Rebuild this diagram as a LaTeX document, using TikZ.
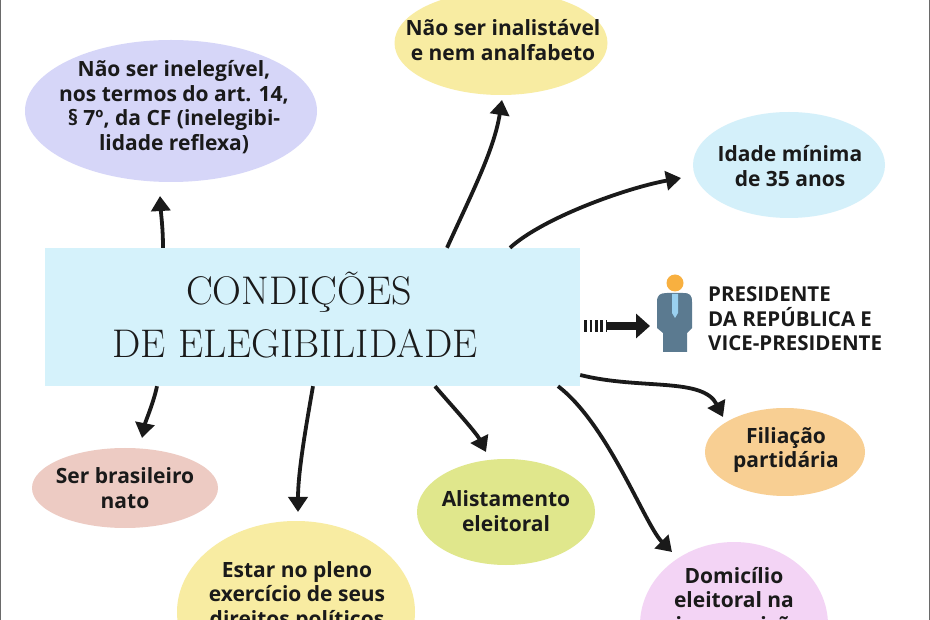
\documentclass[tikz,border=0pt]{standalone}
\usepackage{fontspec}
\usepackage{graphicx}
\newfontfamily\bodyf{Open Sans}
\usetikzlibrary{arrows.meta,shapes.geometric}
\definecolor{ink}{HTML}{1A1A1A}
\definecolor{lav}{HTML}{D6D6F8}
\definecolor{ylw}{HTML}{F8ECA2}
\definecolor{sky}{HTML}{D4F0FA}
\definecolor{cyanbox}{HTML}{D5F2FB}
\definecolor{orng}{HTML}{F8CF93}
\definecolor{pnk}{HTML}{F3D4F5}
\definecolor{lime}{HTML}{E0E78C}
\definecolor{rose}{HTML}{EDCBC3}
\definecolor{suit}{HTML}{5B7A90}
\definecolor{tie}{HTML}{9AD0EF}
\definecolor{headc}{HTML}{F8B040}
\definecolor{frame}{HTML}{6A6A6A}
\begin{document}
\begin{tikzpicture}[x=1pt,y=-1pt,
  ell/.style={ellipse, inner sep=0pt, draw=none},
  lbl/.style={font=\bodyf\bfseries\fontsize{21}{24.5}\selectfont, align=center, text=ink, inner sep=0pt},
  ttl/.style={font=\fontsize{40}{53}\selectfont\addfontfeature{LetterSpace=2}, text=ink, inner sep=0pt, anchor=base},
  arr/.style={line width=3.8pt, draw=ink, -{Triangle[length=15pt,width=19pt]}}]
\useasboundingbox (0,0) rectangle (930,620);
\begin{scope}
\clip (0,0) rectangle (930,620);
\fill[white] (0,0) rectangle (930,620);
% ellipses
\node[ell, fill=lav,  minimum width=292pt, minimum height=142pt] (e1) at (171,111) {};
\node[ell, fill=ylw,  minimum width=213pt, minimum height=104pt] (e2) at (501,43) {};
\node[ell, fill=sky,  minimum width=192pt, minimum height=106pt] (e3) at (789,165) {};
\node[ell, fill=orng, minimum width=160pt, minimum height=88pt] (e7) at (785,452) {};
\node[ell, fill=pnk,  minimum width=188pt, minimum height=166pt] (e8) at (734,625) {};
\node[ell, fill=lime, minimum width=178pt, minimum height=106pt] (e9) at (506,512) {};
\node[ell, fill=rose, minimum width=186pt, minimum height=80pt] (e10) at (125,488) {};
\node[ell, fill=ylw,  minimum width=238pt, minimum height=182pt] (e11) at (296,612) {};
% labels
\node[lbl] (l1) at (174,107) {Não ser inelegível,\\nos termos do art. 14,\\§ 7º, da CF (inelegibi-\\lidade reflexa)};
\node[lbl] (l2) at (503,40) {Não ser inalistável\\e nem analfabeto};
\node[lbl] (l3) at (790,166) {Idade mínima\\de 35 anos};
\node[lbl] (l7) at (786,450) {Filiação\\partidária};
\node[lbl] (l10) at (125,488) {Ser brasileiro\\nato};
\node[lbl] (l9) at (506,511) {Alistamento\\eleitoral};
\node[lbl, anchor=north] (l11) at (297,561) {Estar no pleno\\exercício de seus\\direitos políticos};
\node[lbl, anchor=north] (l8) at (734,567) {Domicílio\\eleitoral na\\circunscrição};
% central box
\node[rectangle, fill=cyanbox, minimum width=535pt, minimum height=138pt, inner sep=0pt] (ctr) at (312.5,317) {};
\node[ttl] (t1) at (299,305) {CONDIÇÕES};
\node[ttl] (t2) at (295,358) {DE ELEGIBILIDADE};
% arrows
\draw[arr] ([xshift=-149.5pt]ctr.north) .. controls +(0,-20) and +(1,18) .. ([xshift=-11pt,yshift=-85pt]e1.center);
\draw[arr] ([xshift=134.5pt]ctr.north) .. controls +(25,-55) and +(-8,50) .. ([xshift=1pt,yshift=-57pt]e2.center);
\draw[arr] ([xshift=197.5pt]ctr.north) .. controls +(33,-30) and +(-55,10) .. ([xshift=-108pt,yshift=-13pt]e3.center);
\draw[arr] ([yshift=-58pt]ctr.east) .. controls +(60,15) and +(-20,-40) .. ([xshift=-62pt,yshift=35pt]e7.center);
\draw[arr] ([xshift=245.5pt]ctr.south) .. controls +(50,38) and +(-27,-27) .. ([xshift=-62pt,yshift=73pt]e8.center);
\draw[arr] ([xshift=122.5pt]ctr.south) .. controls +(10,12) and +(-10,-20) .. ([xshift=-20pt,yshift=60pt]e9.center);
\draw[arr] ([xshift=0.5pt]ctr.south) .. controls +(-7,40) and +(0,-40) .. ([xshift=2pt,yshift=100pt]e11.center);
\draw[arr] ([xshift=-155.5pt]ctr.south) .. controls +(-3,15) and +(3,-15) .. ([xshift=17pt,yshift=50pt]e10.center);
% person icon
\fill[suit] (663,352) -- (663,333) -- (657,328) -- (657,302) .. controls (657,295) and (660,293) .. (667,293) -- (683,293) .. controls (690,293) and (692,295) .. (692,302) -- (692,328) -- (687,333) -- (687,352) -- cycle;
\fill[tie] (672,294) -- (678,294) -- (678,313) -- (675,318) -- (672,313) -- cycle;
\fill[headc] (675,283) circle[radius=8.5pt];
\coordinate (pers) at (650,326);
% dashed arrow
\draw[ink, line width=12pt, dash pattern=on 2.7pt off 2.7pt] ([xshift=4pt,yshift=-9pt]ctr.east) -- +(22,0);
\draw[ink, line width=8.5pt, -{Triangle[length=14pt,width=24pt]}] ([xshift=27pt,yshift=-9pt]ctr.east) -- (pers);
\node[font=\bodyf\bfseries\fontsize{20.5}{24.5}\selectfont, align=left, text=ink, anchor=west, inner sep=0pt] (ptxt) at (708,319) {PRESIDENTE\\DA REPÚBLICA E\\VICE-PRESIDENTE};
% side frame lines
\draw[frame, line width=1.4pt] (0.7,0) -- (0.7,620);
\draw[frame, line width=1.4pt] (929.3,0) -- (929.3,620);
\end{scope}
\end{tikzpicture}
\end{document}
